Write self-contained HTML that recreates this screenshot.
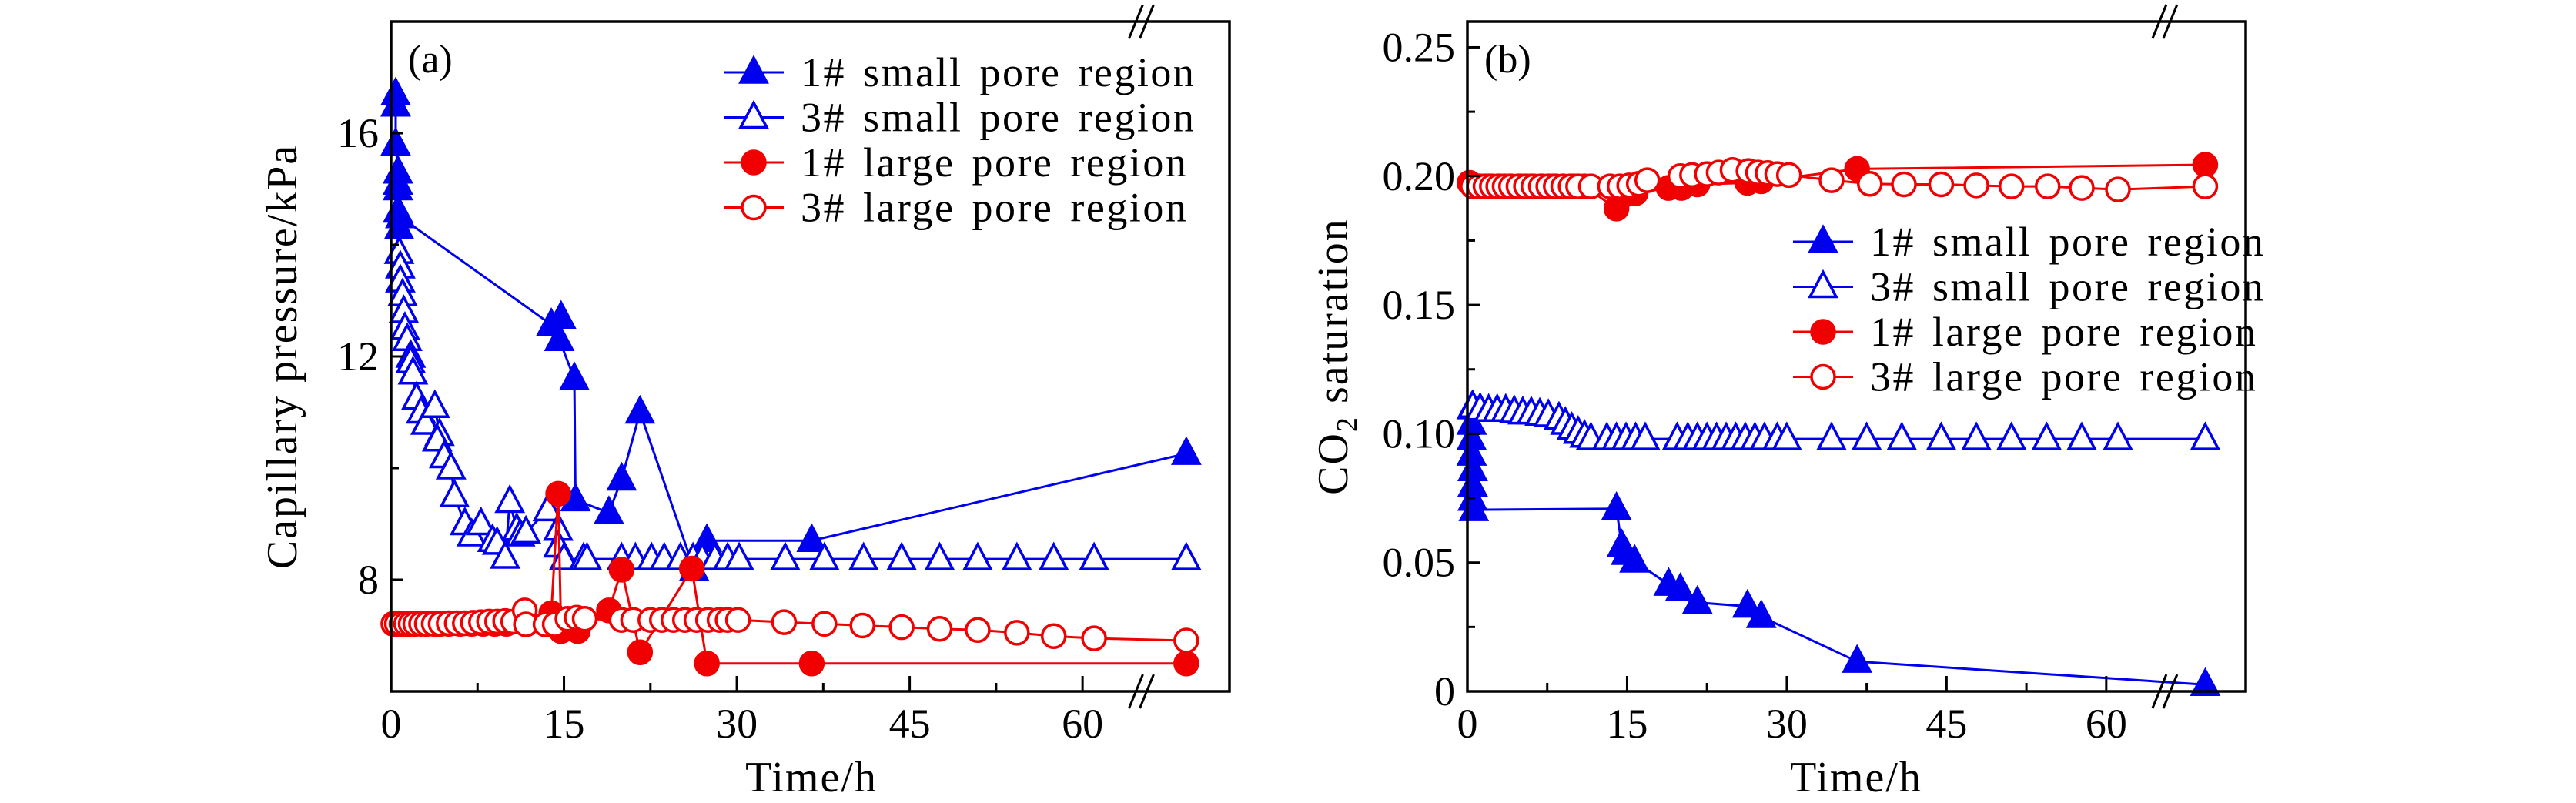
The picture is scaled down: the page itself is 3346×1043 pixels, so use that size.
<!DOCTYPE html>
<html><head><meta charset="utf-8"><style>
html,body{margin:0;padding:0;background:#fff}
svg{display:block}
text{font-family:"Liberation Serif",serif;fill:#000}
</style></head><body>
<svg id="fig" width="3346" height="1043" viewBox="0 0 3346 1043" xmlns="http://www.w3.org/2000/svg"></svg>
<script>
// ---------- Panel (a) data: time (h) and capillary pressure (kPa) ----------
const a1sX=[0.4,0.4,0.4,0.6,0.6,0.6,0.6,0.7,0.8,13.9,14.75,14.6,15.9,16.0,18.9,20.0,21.6,26.3,27.4,36.5,69];
const a1sY=[16.7,16.5,15.8,15.3,15.1,15.0,14.6,14.3,14.5,12.57,12.7,12.3,11.6,9.43,9.2,9.8,11.0,8.18,8.7,8.7,10.26];
const a3sX=[0.7,0.8,0.8,1.0,1.1,1.2,1.4,1.7,1.7,1.9,2.2,2.6,3.0,3.8,4.2,4.0,4.6,5.2,5.5,6.4,7.0,7.8,8.8,9.2,9.9,10.3,10.9,11.2,11.7,13.6,14.5,14.5,15.0,16.7,17.0,20.0,21.2,22.6,23.7,25.1,26.2,27.0,28.1,29.2,30.2,34.2,37.6,41.0,44.3,47.6,50.9,54.3,57.5,61.0,69];
const a3sY=[13.86,13.6,13.35,13.1,12.8,12.5,12.3,12.0,11.9,11.7,11.25,11.0,10.8,11.1,10.6,10.5,10.2,10.0,9.5,9.0,8.8,9.0,8.7,8.65,8.4,9.4,8.9,8.8,8.85,9.25,8.9,8.6,8.37,8.37,8.37,8.37,8.37,8.37,8.37,8.37,8.37,8.37,8.37,8.37,8.37,8.37,8.37,8.37,8.37,8.37,8.37,8.37,8.37,8.37,8.37];
const a1lX=[0.2,0.5,1,1.5,2,3,4,5,6,7,8,9,10,13.9,14.5,14.75,16.2,18.9,20.0,21.6,26.1,27.4,36.5,69];
const a1lY=[7.21,7.21,7.21,7.21,7.21,7.21,7.21,7.21,7.21,7.21,7.21,7.21,7.21,7.4,9.54,7.08,7.08,7.45,8.18,6.7,8.2,6.5,6.5,6.5];
const a3lX=[0.2,0.5,0.9,1.3,1.7,2.1,2.6,3.1,3.7,4.3,5.0,5.7,6.4,7.1,7.8,8.5,9.2,9.9,10.6,11.6,11.7,13.4,14.2,15.3,16.1,16.8,20.0,21.0,22.5,23.5,24.5,25.5,26.5,27.5,28.5,29.2,30.1,34.1,37.6,40.9,44.3,47.6,50.9,54.3,57.5,61.0,69];
const a3lY=[7.21,7.21,7.21,7.21,7.21,7.21,7.21,7.21,7.21,7.21,7.22,7.22,7.22,7.23,7.24,7.25,7.25,7.26,7.25,7.45,7.2,7.2,7.2,7.3,7.32,7.3,7.28,7.28,7.28,7.28,7.28,7.28,7.28,7.28,7.28,7.28,7.28,7.24,7.21,7.18,7.15,7.12,7.1,7.05,6.99,6.95,6.91];
const aXTicks=[0,15,30,45,60];
const aYTicks=[8,12,16];
// ---------- Panel (b) data: time (h) and CO2 saturation ----------
const b1sX=[0.4,0.4,0.4,0.4,0.5,0.5,0.5,0.6,14.0,14.5,14.9,15.7,18.9,20.0,21.6,26.3,27.6,36.6,69.3];
const b1sY=[0.110,0.104,0.098,0.092,0.086,0.080,0.0745,0.0705,0.0709,0.0565,0.0535,0.0505,0.0415,0.0395,0.0345,0.033,0.029,0.0116,0.0026];
const b3sX=[0.5,1.2,2.0,2.8,3.6,4.4,5.2,6.0,6.8,7.6,8.6,9.2,9.8,10.4,11.0,11.6,13.1,14.0,14.9,15.8,16.7,19.7,20.7,21.6,22.5,23.4,24.3,25.2,26.1,27.0,27.9,29.1,30.0,34.2,37.5,40.8,44.5,47.8,51.1,54.4,57.7,61.1,69.3];
const b3sY=[0.1105,0.1095,0.109,0.109,0.109,0.1085,0.108,0.108,0.1075,0.107,0.106,0.104,0.102,0.1005,0.099,0.098,0.098,0.098,0.098,0.098,0.098,0.098,0.098,0.098,0.098,0.098,0.098,0.098,0.098,0.098,0.098,0.098,0.098,0.098,0.098,0.098,0.098,0.098,0.098,0.098,0.098,0.098,0.098];
const b1lX=[0.2,0.6,1.2,2,3,4,5,6,7,8,9,10,11,14.0,14.6,15.8,18.9,20.1,21.6,26.3,27.6,36.6,69.3];
const b1lY=[0.1974,0.196,0.196,0.196,0.196,0.196,0.196,0.196,0.196,0.196,0.196,0.196,0.196,0.1874,0.1924,0.1934,0.1954,0.1954,0.1968,0.1974,0.198,0.2028,0.2044];
const b3lX=[0.5,1.1,1.7,2.3,2.9,3.5,4.1,4.8,5.5,6.2,6.9,7.6,8.3,9.0,9.7,10.4,11.6,13.4,14.3,15.2,16.1,16.9,20.0,21.1,22.5,23.6,24.9,26.4,27.3,28.2,29.1,30.2,34.2,37.8,41.0,44.5,47.8,51.1,54.5,57.7,61.1,69.3];
const b3lY=[0.196,0.196,0.196,0.196,0.196,0.196,0.196,0.196,0.196,0.196,0.196,0.196,0.196,0.196,0.196,0.196,0.196,0.196,0.196,0.1964,0.197,0.1984,0.200,0.2004,0.2008,0.2014,0.2024,0.202,0.2014,0.2012,0.2008,0.2004,0.1984,0.197,0.1968,0.1968,0.1964,0.196,0.196,0.1954,0.1948,0.196];
const bXTicks=[0,15,30,45,60];
const bYTicks=[0,0.05,0.10,0.15,0.20,0.25];
const bYLabels=["0","0.05","0.10","0.15","0.20","0.25"];
const legendLabels=["1# small pore region","3# small pore region","1# large pore region","3# large pore region"];

const NS="http://www.w3.org/2000/svg";
const svg=document.getElementById('fig');
function mk(tag,attrs,parent){const e=document.createElementNS(NS,tag);for(const k in attrs)e.setAttribute(k,attrs[k]);(parent||svg).appendChild(e);return e;}
const BLUE="#0000f0",RED="#f00000";

function marker(g,type,x,y,color){
  let e;
  if(type==='tri'||type==='otri'){
    e=mk('polygon',{points:`${x},${y-19} ${x-17},${y+13} ${x+17},${y+13}`,fill:type==='tri'?color:'#fff',stroke:color,'stroke-width':3.5,'stroke-linejoin':'miter'},g);
  }else{
    e=mk('circle',{cx:x,cy:y,r:15,fill:type==='circ'?color:'#fff',stroke:color,'stroke-width':3.5},g);
  }
  return e;
}

function panel(P){
  const g=mk('g',{});
  
  
  const sx=v=>P.L+(v-P.x0)/(P.x1-P.x0)*(P.R-P.L);
  const sy=v=>P.B-(v-P.y0)/(P.y1-P.y0)*(P.B-P.T);
  P.series.forEach(s=>{
    const sg=mk('g',{},g);
    
    
    const pts=s.x.map((v,i)=>sx(v)+','+sy(s.y[i])).join(' ');
    const pl=mk('polyline',{points:pts,fill:'none',stroke:s.color,'stroke-width':3},sg);
    
    
    s.x.forEach((v,i)=>{
      const m=marker(sg,s.type,sx(v),sy(s.y[i]),s.color);
      
      
    });
  });
  const fr=mk('rect',{x:P.L,y:P.T,width:P.R-P.L,height:P.B-P.T,fill:'none',stroke:'#000','stroke-width':3.5},g);
  
  
  const xg=mk('g',{},g);
  
  
  P.xticks.forEach(t=>{
    mk('line',{x1:sx(t),x2:sx(t),y1:P.B,y2:P.B-20,stroke:'#000','stroke-width':3},xg);
    if(t+7.5<P.brk) mk('line',{x1:sx(t+7.5),x2:sx(t+7.5),y1:P.B,y2:P.B-11,stroke:'#000','stroke-width':3},xg);
    const tx=mk('text',{x:sx(t),y:P.B+60,'font-size':54,'text-anchor':'middle'},xg);
    tx.textContent=String(t);
    
    
  });
  const yg=mk('g',{},g);
  
  
  P.yticks.forEach((t,i)=>{
    mk('line',{x1:P.L,x2:P.L+16,y1:sy(t),y2:sy(t),stroke:'#000','stroke-width':3},yg);
    const tx=mk('text',{x:P.L-16,y:sy(t)+18,'font-size':54,'text-anchor':'end'},yg);
    tx.textContent=P.ylabels[i];
    
    
  });
  P.yminor.forEach(t=>mk('line',{x1:P.L,x2:P.L+10,y1:sy(t),y2:sy(t),stroke:'#000','stroke-width':3},yg));
  const bx=sx(P.brk);
  [P.T,P.B].forEach(yy=>{
    const bg=mk('g',{},g);
    
    
    mk('line',{x1:bx-16,y1:yy+22,x2:bx+2,y2:yy-22,stroke:'#000','stroke-width':3},bg);
    mk('line',{x1:bx-2,y1:yy+22,x2:bx+16,y2:yy-22,stroke:'#000','stroke-width':3},bg);
  });
  const pl=mk('text',{x:P.L+22,y:P.T+66,'font-size':52},g);
  pl.textContent=P.tag;
  
  
  const xt=mk('text',{x:P.xtX,y:1028,'font-size':56,'text-anchor':'middle','letter-spacing':2},g);
  xt.textContent='Time/h';
  
  
  const yt=mk('text',{x:0,y:0,'font-size':56,'text-anchor':'middle','letter-spacing':2,transform:`translate(${P.ytX},${(P.T+P.B)/2}) rotate(-90)`},g);
  
  
  if(P.co2){yt.innerHTML='CO<tspan font-size="38" dy="12">2</tspan><tspan dy="-12"> saturation</tspan>';}
  else yt.textContent='Capillary pressure/kPa';
  const lg=mk('g',{},g);
  
  
  P.series.forEach((s,i)=>{
    const y=P.legY+i*58.5;
    const eg=mk('g',{},lg);
    
    
    mk('line',{x1:P.legX,x2:P.legX+78,y1:y,y2:y,stroke:s.color,'stroke-width':3},eg);
    marker(eg,s.type,P.legX+39,y,s.color);
    const t=mk('text',{x:P.legX+100,y:y+18,'font-size':54,'letter-spacing':2.5,'word-spacing':6},eg);
    t.textContent=legendLabels[i];
  });
}

panel({name:'panel-a-capillary-pressure',tag:'(a)',L:508,R:1597,T:28,B:898,x0:0,x1:72.75,y0:6,y1:18,
  xticks:aXTicks,yticks:aYTicks,ylabels:aYTicks.map(String),yminor:[10,14],brk:65.1,
  xtX:1054,ytX:385,legX:940,legY:94,
  series:[
   {name:'series-1-small-pore',x:a1sX,y:a1sY,color:BLUE,type:'tri'},
   {name:'series-3-small-pore',x:a3sX,y:a3sY,color:BLUE,type:'otri'},
   {name:'series-1-large-pore',x:a1lX,y:a1lY,color:RED,type:'circ'},
   {name:'series-3-large-pore',x:a3lX,y:a3lY,color:RED,type:'ocirc'}]});
panel({name:'panel-b-co2-saturation',tag:'(b)',co2:true,L:1906,R:2917,T:28,B:898,x0:0,x1:73.1,y0:0,y1:0.26,
  xticks:bXTicks,yticks:bYTicks,ylabels:bYLabels,yminor:[0.025,0.075,0.125,0.175,0.225],brk:65.5,
  xtX:2411,ytX:1750,legX:2329,legY:314,
  series:[
   {name:'series-1-small-pore',x:b1sX,y:b1sY,color:BLUE,type:'tri'},
   {name:'series-3-small-pore',x:b3sX,y:b3sY,color:BLUE,type:'otri'},
   {name:'series-1-large-pore',x:b1lX,y:b1lY,color:RED,type:'circ'},
   {name:'series-3-large-pore',x:b3lX,y:b3lY,color:RED,type:'ocirc'}]});
</script>
</body></html>
